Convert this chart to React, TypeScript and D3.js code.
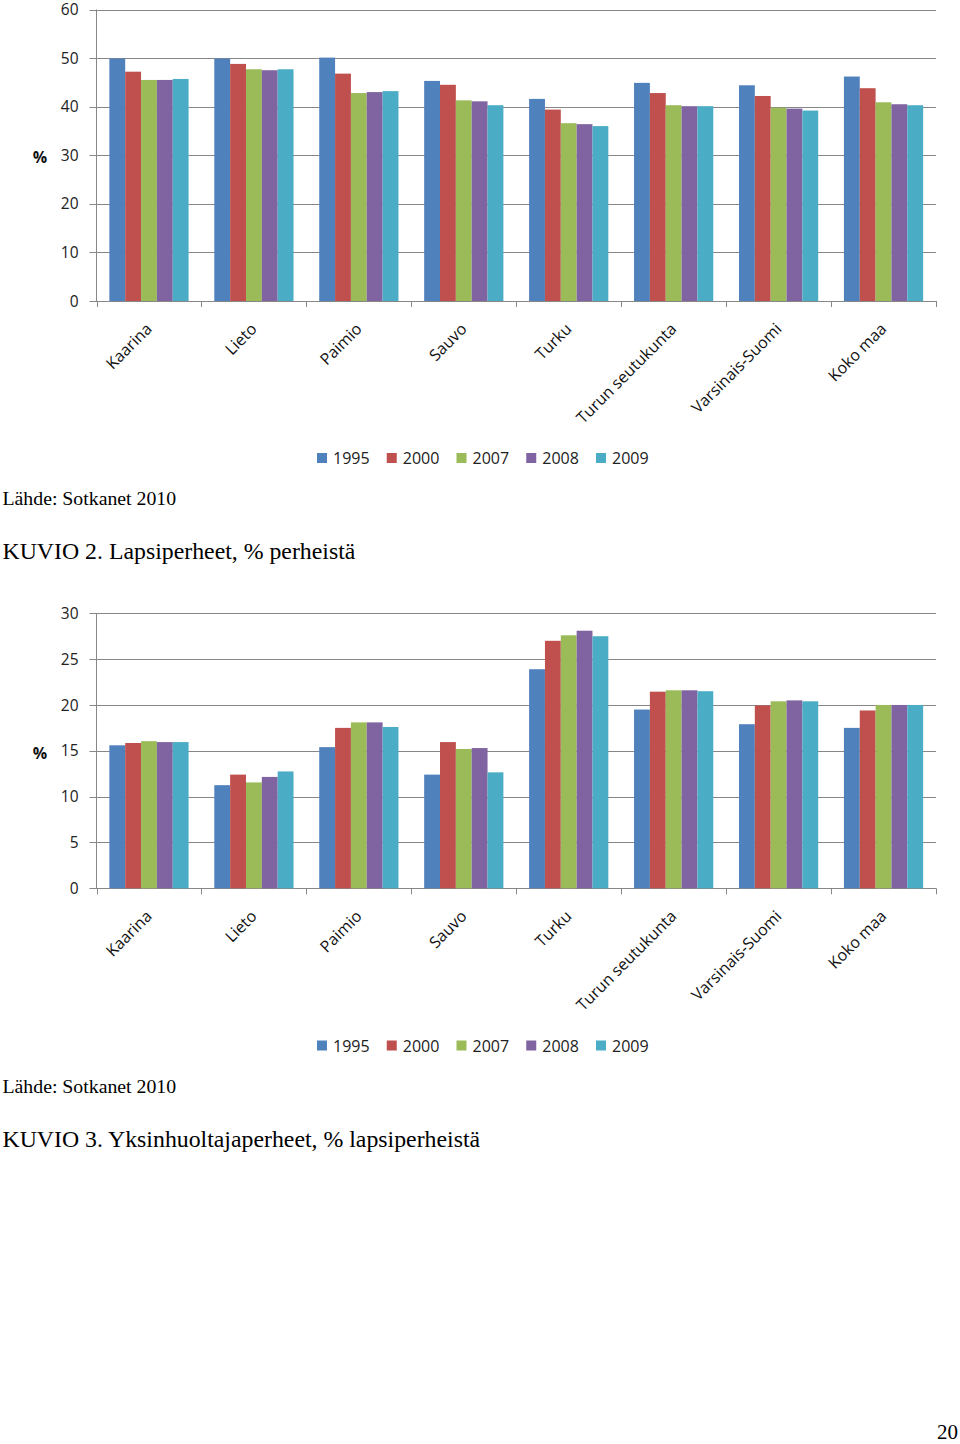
import React from "react";
import * as d3 from "d3";

const categories = [
  "Kaarina",
  "Lieto",
  "Paimio",
  "Sauvo",
  "Turku",
  "Turun seutukunta",
  "Varsinais-Suomi",
  "Koko maa",
];
const seriesNames = ["1995", "2000", "2007", "2008", "2009"];
const seriesColors = ["#4F81BD", "#C0504D", "#9BBB59", "#8064A2", "#4BACC6"];

// KUVIO 2: Lapsiperheet, % perheistä  (rows = category, cols = series)
const chart1Values = [
  [49.9, 47.2, 45.5, 45.5, 45.7],
  [49.9, 48.8, 47.7, 47.5, 47.7],
  [50.1, 46.8, 42.8, 43.0, 43.2],
  [45.3, 44.5, 41.3, 41.1, 40.3],
  [41.6, 39.4, 36.6, 36.4, 36.0],
  [44.9, 42.8, 40.3, 40.1, 40.1],
  [44.4, 42.2, 39.8, 39.6, 39.2],
  [46.2, 43.8, 40.9, 40.5, 40.3],
];
const chart1Ticks = [0, 10, 20, 30, 40, 50, 60];

// KUVIO 3: Yksinhuoltajaperheet, % lapsiperheistä
const chart2Values = [
  [15.6, 15.85, 16.05, 15.95, 15.95],
  [11.25, 12.4, 11.55, 12.15, 12.75],
  [15.4, 17.5, 18.1, 18.1, 17.6],
  [12.4, 15.95, 15.2, 15.3, 12.65],
  [23.9, 27.0, 27.6, 28.1, 27.5],
  [19.5, 21.45, 21.6, 21.6, 21.5],
  [17.9, 19.95, 20.4, 20.5, 20.4],
  [17.5, 19.4, 20.0, 20.0, 20.0],
];
const chart2Ticks = [0, 5, 10, 15, 20, 25, 30];

const SANS = "'Open Sans', 'DejaVu Sans', sans-serif";
const SERIF = "'Liberation Serif', 'Times New Roman', serif";
const GRID = "#878787";

type ChartProps = {
  values: number[][];
  ticks: number[];
  top: number;
  bottom: number;
  offset: number;
  source: string;
  caption: string;
};

function BarChart({ values, ticks, top, bottom, offset, source, caption }: ChartProps) {
  const left = 96.5;
  const right = 936;
  const y = d3
    .scaleLinear()
    .domain([0, d3.max(ticks) as number])
    .range([bottom, top]);
  const x0 = d3
    .scaleBand<string>()
    .domain(categories)
    .range([left, right])
    .paddingInner(0.245)
    .paddingOuter(0.1225);
  const x1 = d3
    .scaleBand<string>()
    .domain(seriesNames)
    .range([0, x0.bandwidth()]);
  const step = x0.step();
  const boundaries = d3.range(categories.length + 1).map((i) => left + i * step);

  return (
    <g>
      {ticks.map((t) => (
        <g key={"t" + t}>
          <line
            x1={left - 7}
            x2={right}
            y1={Math.round(y(t)) + 0.5}
            y2={Math.round(y(t)) + 0.5}
            stroke={GRID}
            strokeWidth={1}
          />
          <text
            x={78.5}
            y={y(t)}
            dy="0.36em"
            textAnchor="end"
            fontFamily={SANS}
            fontSize={15.5}
            fill="#222"
          >
            {t}
          </text>
        </g>
      ))}
      <line x1={left} x2={left} y1={top} y2={bottom} stroke={GRID} strokeWidth={1} />
      {boundaries.map((bx, i) => (
        <line
          key={"b" + i}
          x1={Math.round(bx) + 0.5}
          x2={Math.round(bx) + 0.5}
          y1={bottom}
          y2={bottom + 6}
          stroke={GRID}
          strokeWidth={1}
        />
      ))}
      <text
        x={40}
        y={(top + bottom) / 2 + 2}
        dy="0.36em"
        textAnchor="middle"
        fontFamily={SANS}
        fontSize={16}
        fontWeight="bold"
        fill="#111"
      >
        %
      </text>
      {categories.map((c, ci) => (
        <g key={c} transform={`translate(${x0(c)},0)`}>
          {seriesNames.map((s, si) => (
            <rect
              key={s}
              x={x1(s)}
              y={y(values[ci][si])}
              width={x1.bandwidth()}
              height={bottom - y(values[ci][si])}
              fill={seriesColors[si]}
            />
          ))}
        </g>
      ))}
      {categories.map((c) => {
        const cx = (x0(c) as number) + x0.bandwidth() / 2 + 4;
        const cy = bottom + 29;
        return (
          <text
            key={"l" + c}
            x={cx}
            y={cy}
            textAnchor="end"
            transform={`rotate(-45 ${cx} ${cy})`}
            fontFamily={SANS}
            fontSize={16}
            fill="#111"
          >
            {c}
          </text>
        );
      })}
      {seriesNames.map((s, i) => (
        <g key={"lg" + s} transform={`translate(${317 + i * 69.75},${offset + 453})`}>
          <rect x={0} y={0} width={10} height={10} fill={seriesColors[i]} />
          <text x={16} y={11} fontFamily={SANS} fontSize={16} fill="#222">
            {s}
          </text>
        </g>
      ))}
      <text x={2.5} y={offset + 505} fontFamily={SERIF} fontSize={19.8} fill="#000">
        {source}
      </text>
      <text x={2.5} y={offset + 559} fontFamily={SERIF} fontSize={23.8} fill="#000">
        {caption}
      </text>
    </g>
  );
}

export default function App() {
  return (
    <svg
      width={960}
      height={1444}
      viewBox="0 0 960 1444"
      style={{ position: "absolute", left: 0, top: 0, background: "#fff" }}
    >
      <rect x={0} y={0} width={960} height={1444} fill="#fff" />
      <BarChart
        values={chart1Values}
        ticks={chart1Ticks}
        top={9.5}
        bottom={301}
        offset={0}
        source="Lähde: Sotkanet 2010"
        caption="KUVIO 2. Lapsiperheet, % perheistä"
      />
      <BarChart
        values={chart2Values}
        ticks={chart2Ticks}
        top={613.3}
        bottom={888.3}
        offset={587.5}
        source="Lähde: Sotkanet 2010"
        caption="KUVIO 3. Yksinhuoltajaperheet, % lapsiperheistä"
      />
      <text x={958} y={1439} textAnchor="end" fontFamily={SERIF} fontSize={21} fill="#000">
        20
      </text>
    </svg>
  );
}
